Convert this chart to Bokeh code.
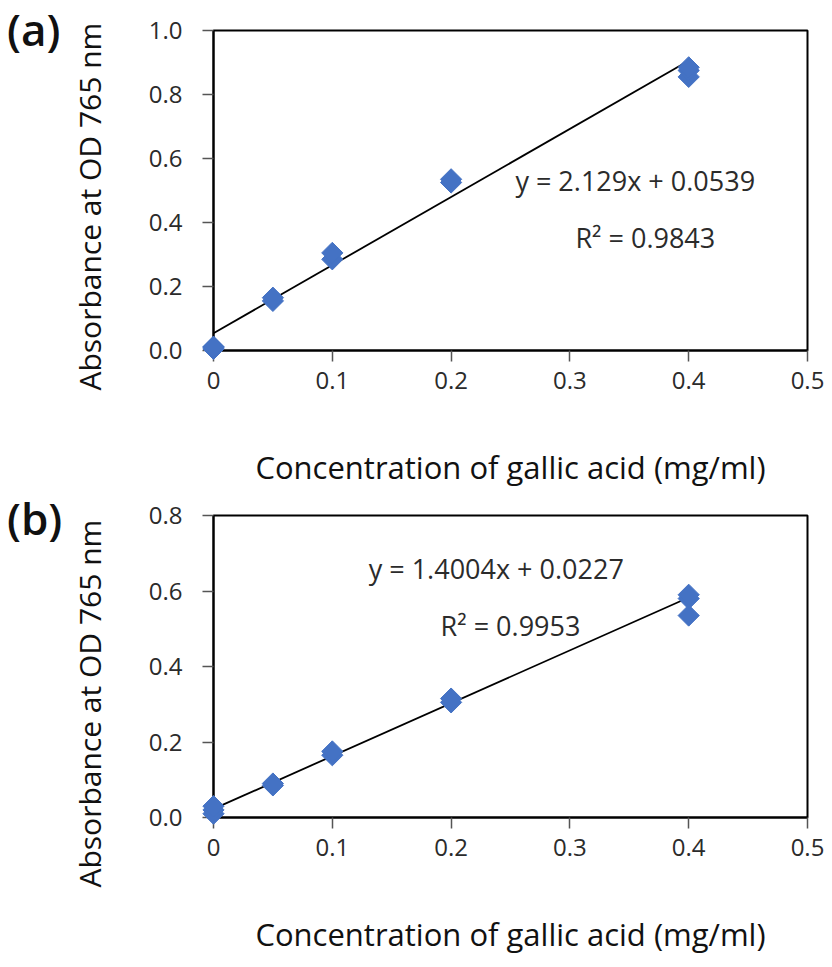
import numpy as np
from bokeh.plotting import figure
from bokeh.layouts import column, row
from bokeh.models import (Label, Range1d, FixedTicker, CustomJSTickFormatter,
                          Div, Title)
from bokeh.embed import file_html
from bokeh.resources import INLINE

# Panel (a)
a_x = [0, 0, 0, 0.05, 0.05, 0.1, 0.1, 0.2, 0.2, 0.4, 0.4, 0.4]
a_y = [0.005, 0.01, 0.012, 0.155, 0.165, 0.285, 0.305, 0.525, 0.535, 0.855, 0.875, 0.885]
a_slope, a_intercept = 2.129, 0.0539
a_eq = "y = 2.129x + 0.0539"
a_r2 = "R² = 0.9843"

# Panel (b)
b_x = [0, 0, 0, 0.05, 0.05, 0.1, 0.1, 0.2, 0.2, 0.4, 0.4, 0.4]
b_y = [0.01, 0.02, 0.03, 0.085, 0.09, 0.165, 0.175, 0.305, 0.315, 0.535, 0.58, 0.59]
b_slope, b_intercept = 1.4004, 0.0227
b_eq = "y = 1.4004x + 0.0227"
b_r2 = "R² = 0.9953"

x_ticks = [0, 0.1, 0.2, 0.3, 0.4, 0.5]
x_labels = ["0", "0.1", "0.2", "0.3", "0.4", "0.5"]
a_yticks = [0.0, 0.2, 0.4, 0.6, 0.8, 1.0]
b_yticks = [0.0, 0.2, 0.4, 0.6, 0.8]
x_title = "Concentration of gallic acid (mg/ml)"
y_title = "Absorbance at OD 765 nm"

FONT = "Open Sans"
BLUE = "#4472C4"
TXT = "#2b2b2b"
TAG_W = 10


def make_panel(xs, ys, slope, intercept, eq, r2, yticks, ymax, h, top,
               eq_pos, r2_pos, ytitle_shift):
    p = figure(width=816 - TAG_W, height=h, output_backend="svg",
               toolbar_location=None,
               x_range=Range1d(0, 0.5), y_range=Range1d(0, ymax),
               min_border_left=211 - 8 - TAG_W, min_border_right=19,
               min_border_top=top, min_border_bottom=10)
    p.xgrid.visible = False
    p.ygrid.visible = False
    p.outline_line_color = "black"
    p.outline_line_width = 2
    p.background_fill_color = "white"
    p.border_fill_alpha = 0

    p.xaxis.ticker = FixedTicker(ticks=x_ticks)
    p.xaxis.major_label_overrides = {t: l for t, l in zip(x_ticks, x_labels)}
    p.yaxis.ticker = FixedTicker(ticks=yticks)
    p.yaxis.formatter = CustomJSTickFormatter(code="return tick.toFixed(1);")
    for ax in (p.xaxis, p.yaxis):
        ax.axis_line_color = "black"
        ax.axis_line_width = 2
        ax.major_tick_line_color = "#555555"
        ax.major_tick_line_width = 1.5
        ax.major_tick_out = 11
        ax.major_tick_in = 0
        ax.minor_tick_line_color = None
        ax.major_label_text_font = FONT
        ax.major_label_text_font_size = "24px"
        ax.major_label_text_color = TXT
        ax.axis_label_text_font = FONT
        ax.axis_label_text_font_size = "31px"
        ax.axis_label_text_font_style = "normal"
        ax.axis_label_text_color = "#111111"
    p.xaxis.axis_label = x_title
    p.xaxis.major_label_standoff = 10
    p.xaxis.axis_label_standoff = 54
    p.yaxis.major_label_standoff = 20

    # y-axis title, placed from the frame's bottom edge upward
    p.add_layout(Title(text=y_title, text_font=FONT, text_font_size="30px",
                       text_font_style="normal", text_color="#111111",
                       align="left", offset=ytitle_shift, standoff=72), "left")

    x0, x1 = min(xs), max(xs)
    p.line([x0, x1], [slope * x0 + intercept, slope * x1 + intercept],
           line_color="black", line_width=1.8)
    p.scatter(xs, ys, marker="square", angle=np.pi / 4, size=15,
              fill_color=BLUE, line_color=BLUE, level="overlay")

    for pos, txt in ((eq_pos, eq), (r2_pos, r2)):
        p.add_layout(Label(x=pos[0], y=pos[1], text=txt, text_font=FONT,
                           text_font_size="27px", text_align="center",
                           text_baseline="middle", text_color=TXT))
    return p


ha, hb = 490, 467
pa = make_panel(a_x, a_y, a_slope, a_intercept, a_eq, a_r2, a_yticks, 1.0,
                ha, 30, (0.355, 0.531), (0.3635, 0.353), -40)
pb = make_panel(b_x, b_y, b_slope, b_intercept, b_eq, b_r2, b_yticks, 0.8,
                hb, 25, (0.238, 0.66), (0.25, 0.508), -70)

span = ("position:absolute; left:2px; font-family:'Open Sans'; font-size:44px;"
        " font-weight:600; color:#111111; line-height:1.0; white-space:nowrap;")
tags = Div(width=TAG_W, height=ha + hb,
           styles={"overflow": "visible"},
           text=(f'<div style="position:relative; width:{TAG_W}px; height:{ha + hb}px; overflow:visible;">'
                 f'<span style="{span} top:2px;">(a)</span>'
                 f'<span style="{span} top:{ha + 1}px;">(b)</span></div>'))

layout = row(tags, column(pa, pb, spacing=0), spacing=0)
open("out.html", "w").write(file_html(layout, INLINE))
